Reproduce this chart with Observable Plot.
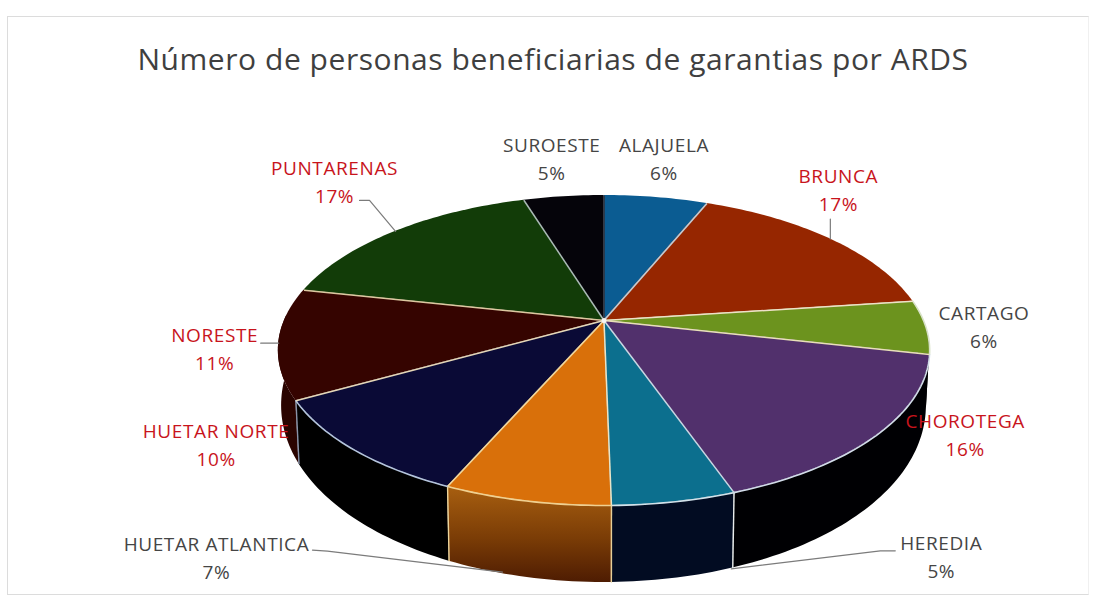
<!DOCTYPE html>
<html lang="es">
<head>
<meta charset="utf-8">
<script src="https://cdn.jsdelivr.net/npm/d3@7"></script>
<script src="https://cdn.jsdelivr.net/npm/@observablehq/plot@0.6"></script>
<style>
  html, body { margin: 0; padding: 0; background: #fff; }
  #chart { position: relative; width: 1093px; height: 599px; overflow: hidden; }
  #frame { position: absolute; left: 7px; top: 16px; width: 1082px; height: 579px;
           border: 1.5px solid #dcdcdc; border-right-color: #f0f0f0; box-sizing: border-box; pointer-events: none; }
  #title { height: 100px; padding-top: 39px; padding-left: 13px; box-sizing: border-box; text-align: center; font-family: "Open Sans", sans-serif;
           font-size: 30px; line-height: 40px; color: #3f3f3f; letter-spacing: 0.55px; white-space: nowrap; }
  svg { display: block; }
  svg text { letter-spacing: 0.6px; }
</style>
</head>
<body>
<div id="chart"><div id="frame"></div><div id="title">Número de personas beneficiarias de garantias por ARDS</div></div>
<script>
// ---- data ----
const regions = ["ALAJUELA","BRUNCA","CARTAGO","CHOROTEGA","HEREDIA","HUETAR ATLANTICA","HUETAR NORTE","NORESTE","PUNTARENAS","SUROESTE"];
const shares  = [6.2, 16.7, 5.6, 16.1, 5.1, 6.9, 10.3, 11.49, 16.81, 4.8];
const percentLabels = ["6%","17%","6%","16%","5%","7%","10%","11%","17%","5%"];

// ---- styling ----
const topColors  = ["#0b5c92","#962600","#6c931e","#51306c","#0c6f8e","#d9700a","#0a0a36","#350400","#123c08","#05040a"];
const wallColors = ["#000","#000","#000","#000003","#020c22","url(#wallOrange)","#000","#2a0400","#000","#000"];
const edgeColors = ["#c3cfd8","#efe0c8","#e8e0b8","#c9d6e2","#e8e4c8","#efd9a0","#e6d8b8","#dcc8a0","#a9b9b4","#30303a"];
const rimColors  = ["none","none","#d8e2c8","#d2dcea","#d2e2ea","#f0d090","#b4c4dc","none","none","none"];
const red = "#c8141c", grey = "#454545";
const textColors = [grey,red,grey,red,grey,grey,red,red,red,grey];
// offsets, in pixels, from the rim point at the middle of each slice
const labelOffsets = [[8,-38],[8,-48],[58,1],[87,2],[267,56.5],[-310,58],[-137,-3.5],[-64,7],[-61,-49],[-12,-37]];
const leaderOffsets = [null,[[0,0],[0,-20]],null,null,[[57,67],[206,49],[221,49]],[[-24,71],[-199,50],[-214,49]],null,[[0,0],[-18,0]],[[0,0],[-26,-31],[-36,-31]],null];

// ---- 3D pie geometry ----
const tilt = 0.1935, unitX = 319.5, unitY = 149.2, pieLeft = 603.5, pieTop = 320, titleH = 100, W = 1093, H = 599 - titleH;
const wall = (Y) => 50 + 27 * Y, wallShrink = 0.99;
const toPoint = (theta) => {
  const X = Math.sin(theta), Y = -Math.cos(theta), w = 1 - tilt * Y;
  const px = X / w, py = Y / w;
  return {theta, px, py, cx: 0, cy: 0, bx: px * wallShrink, by: py + wall(Y) / unitY, Y};
};
const total = d3.sum(shares);
let running = 0;
const slices = regions.map((name, i) => {
  const a0 = running / total * 2 * Math.PI;
  running += shares[i];
  const a1 = running / total * 2 * Math.PI;
  const steps = Math.max(4, Math.ceil((a1 - a0) / 0.02));
  const pts = d3.range(steps + 1).map(j => ({name, i, ...toPoint(a0 + (a1 - a0) * j / steps)}));
  return {name, i, a0, a1, pts, start: pts[0], end: pts[pts.length - 1], mid: toPoint((a0 + a1) / 2)};
});

const marks = [
  () => {
    const defs = d3.create("svg:defs");
    const g = defs.append("linearGradient").attr("id","wallOrange").attr("x1",0).attr("y1",0).attr("x2",0).attr("y2",1);
    g.append("stop").attr("offset","0%").attr("stop-color","#a85f10");
    g.append("stop").attr("offset","55%").attr("stop-color","#7a3c06");
    g.append("stop").attr("offset","100%").attr("stop-color","#4e1c02");
    return defs.node();
  }
];
// walls
slices.forEach((s, i) => {
  const front = s.pts.filter(p => p.Y > -0.05);
  if (front.length > 1) marks.push(Plot.area(front, {x1:"px", y1:"py", x2:"bx", y2:"by", fill: wallColors[i]}));
});
// seams on the wall
const seams = [slices[3], slices[4], slices[5], slices[6]].map(s => s.end);
const seamColors = ["#e8ecec","#e6cf98","#ecd49a","#8a93a8"];
seams.forEach((p, i) => marks.push(Plot.link([p], {x1:"px", y1:"py", x2:"bx", y2:"by", stroke: seamColors[i], strokeWidth: 1.4})));
// top faces
marks.push(Plot.area(slices.flatMap(s => s.pts), {x1:"cx", y1:"cy", x2:"px", y2:"py", z:"name", fill:"name"}));
// front rim
slices.forEach((s, i) => {
  if (rimColors[i] !== "none") marks.push(Plot.line(s.pts, {x:"px", y:"py", stroke: rimColors[i], strokeWidth: 1.6}));
});
// radial separators
marks.push(Plot.link(slices.map((s, i) => ({...s.end, edge: edgeColors[i]})), {
  x1:"cx", y1:"cy", x2:"px", y2:"py", stroke: {value: "edge", scale: null}, strokeWidth: 1.5
}));
marks.push(Plot.dot([{cx:0, cy:0}], {x:"cx", y:"cy", r:2.5, fill:"#f4f4f4"}));
// leader lines
slices.forEach((s, i) => {
  if (!leaderOffsets[i]) return;
  const line = leaderOffsets[i].map(([dx, dy]) => ({x: s.mid.px + dx / unitX, y: s.mid.py + dy / unitY}));
  marks.push(Plot.line(line, {x:"x", y:"y", stroke:"#7b7b7b", strokeWidth:1.2}));
});
// labels
slices.forEach((s, i) => {
  const [dx, dy] = labelOffsets[i];
  const common = {x:"px", y:"py", fontFamily:"'Open Sans', sans-serif", fontSize:19, fill: textColors[i], textAnchor:"middle", lineAnchor:"middle"};
  marks.push(Plot.text([s.mid], {...common, text: () => regions[i], dx, dy: dy - 14}));
  marks.push(Plot.text([s.mid], {...common, text: () => percentLabels[i], dx, dy: dy + 14}));
});

const chart = Plot.plot({
  width: W, height: H, margin: 0,
  style: {background: "transparent", overflow: "visible"},
  x: {axis: null, domain: [-pieLeft / unitX, (W - pieLeft) / unitX], range: [0, W]},
  y: {axis: null, domain: [(titleH - pieTop) / unitY, (599 - pieTop) / unitY], range: [0, H]},
  color: {domain: regions, range: topColors},
  marks
});
document.getElementById("chart").appendChild(chart);
</script>
</body>
</html>
